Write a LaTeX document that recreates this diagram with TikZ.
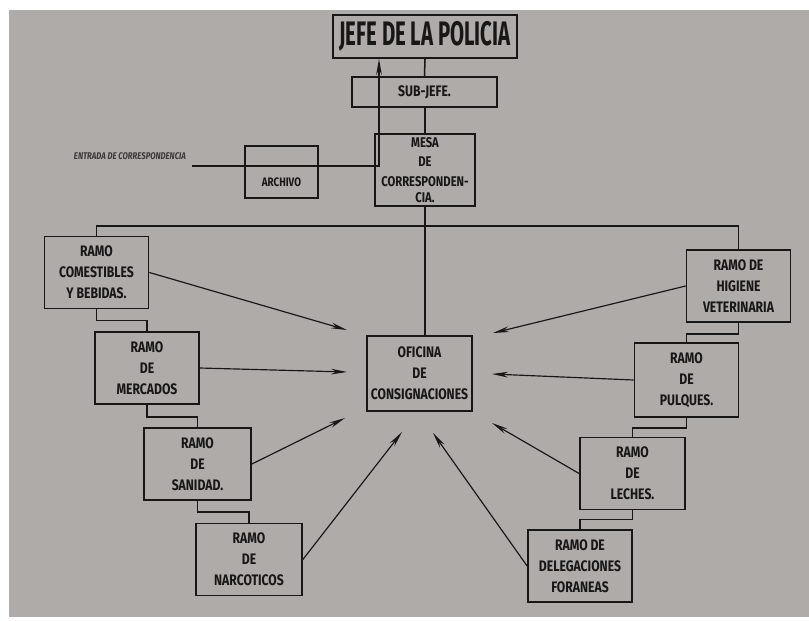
\documentclass[tikz,border=0pt]{standalone}
\usepackage{fontspec}
\setsansfont{Fira Sans}
\newfontfamily\boxfont{Fira Sans}[FakeStretch=0.8]
\newfontfamily\titlefont{Fira Sans}[FakeStretch=0.6]
\usetikzlibrary{arrows.meta,positioning}
\definecolor{papel}{RGB}{174,171,168}
\definecolor{tinta}{RGB}{24,23,23}

\begin{document}
\begin{tikzpicture}[x=0.3mm,y=-0.3mm,
  ramo/.style={draw=tinta,line width=1.5pt,rectangle,align=center,
    minimum width=31.2mm,minimum height=21.6mm,inner sep=0.5pt,text=tinta,
    font=\boxfont\bfseries\fontsize{13}{18}\selectfont},
  liga/.style={draw=tinta,line width=1.3pt},
  flecha/.style={draw=tinta,line width=1pt,-{Stealth[length=4.8mm,width=1.7mm]}}]
\useasboundingbox (0,0) rectangle (809,620);
% paper sheet
\fill[white] (0,0) rectangle (809,620);
\fill[papel] (9,10) rectangle (809,617);
% top of the chain
\node[ramo,minimum width=55.2mm,minimum height=12.9mm,
  font=\titlefont\bfseries\fontsize{29}{29}\selectfont] (jefe) at (425,36.5) {JEFE DE LA POLICIA};
\node[ramo,minimum width=43.5mm,minimum height=9mm] (sub) at (424.5,92) {SUB-JEFE.};
\node[ramo,minimum width=30mm,font=\boxfont\bfseries\fontsize{12}{17}\selectfont]
  (mesa) at (425,170) {MESA\\DE\\CORRESPONDEN-\\[-1.2mm]CIA.};
\node[ramo,minimum width=21.9mm,minimum height=15.6mm,font=\boxfont\bfseries\fontsize{10.5}{15}\selectfont]
  (arch) at (281.5,172) {\strut\\ARCHIVO};
\node[text=tinta!85,font=\boxfont\bfseries\itshape\fontsize{8.3}{9}\selectfont] (entrada) at (130,156) {ENTRADA DE CORRESPONDENCIA};
\node[ramo,minimum width=31.5mm,minimum height=22.5mm] (ofi) at (419.5,373.5) {OFICINA\\DE\\CONSIGNACIONES};
% left branches
\node[ramo] (com) at (96.5,272.5) {RAMO\\COMESTIBLES\\Y BEBIDAS.};
\node[ramo] (mer) at (147,368) {RAMO\\DE\\MERCADOS};
\node[ramo,minimum width=32.1mm] (san) at (197.5,464) {RAMO\\DE\\SANIDAD.};
\node[ramo,minimum width=31.8mm] (nar) at (249,559.5) {RAMO\\DE\\NARCOTICOS};
% right branches
\node[ramo] (hig) at (738.5,286) {RAMO DE\\HIGIENE\\VETERINARIA};
\node[ramo,minimum height=22.2mm] (pul) at (686.5,380) {RAMO\\DE\\PULQUES.};
\node[ramo,minimum width=31.5mm] (lec) at (632.5,473.5) {RAMO\\DE\\LECHES.};
\node[ramo] (del) at (580,566) {RAMO DE\\DELEGACIONES\\FORANEAS};
% free ends
\coordinate (in) at (192,166);
\coordinate (turn) at (379,166);
\coordinate (bus) at (423,226);
\coordinate (a1) at (347,330);
\coordinate (a2) at (347,372);
\coordinate (a3) at (345,418);
\coordinate (a4) at (402,432);
\coordinate (b1) at (493,333);
\coordinate (b2) at (492,374);
\coordinate (b3) at (492,423);
\coordinate (b4) at (433,433);
% chain of command
\draw[liga] (jefe.south) -- (sub.north);
\draw[liga] (sub.south -| mesa.north) -- (mesa.north);
\draw[liga] (mesa.south) -- (mesa.south |- ofi.north);
\draw[liga] (com.north) |- (bus) -| (hig.north);
\draw[flecha,line width=1.3pt] (in) -- (turn) -- (turn |- jefe.south);
% steps between the ramos
\draw[liga] (com.south) -- ++(0,11) -| (mer.north);
\draw[liga] (mer.south) -- ++(0,12) -| (san.north);
\draw[liga] (san.south) -- ++(0,11) -| (nar.north);
\draw[liga] (hig.south) -- ++(0,11) -| (pul.north);
\draw[liga] (pul.south) -- ++(0,10) -| (lec.north);
\draw[liga] (lec.south) -- ++(0,9) -| (del.north);
% everything goes to consignaciones
\foreach \src/\dst in {com/a1,mer/a2,san/a3,nar/a4}
  \draw[flecha] (\src.east) -- (\dst);
\foreach \src/\dst in {hig/b1,pul/b2,lec/b3,del/b4}
  \draw[flecha] (\src.west) -- (\dst);
\end{tikzpicture}
\end{document}
